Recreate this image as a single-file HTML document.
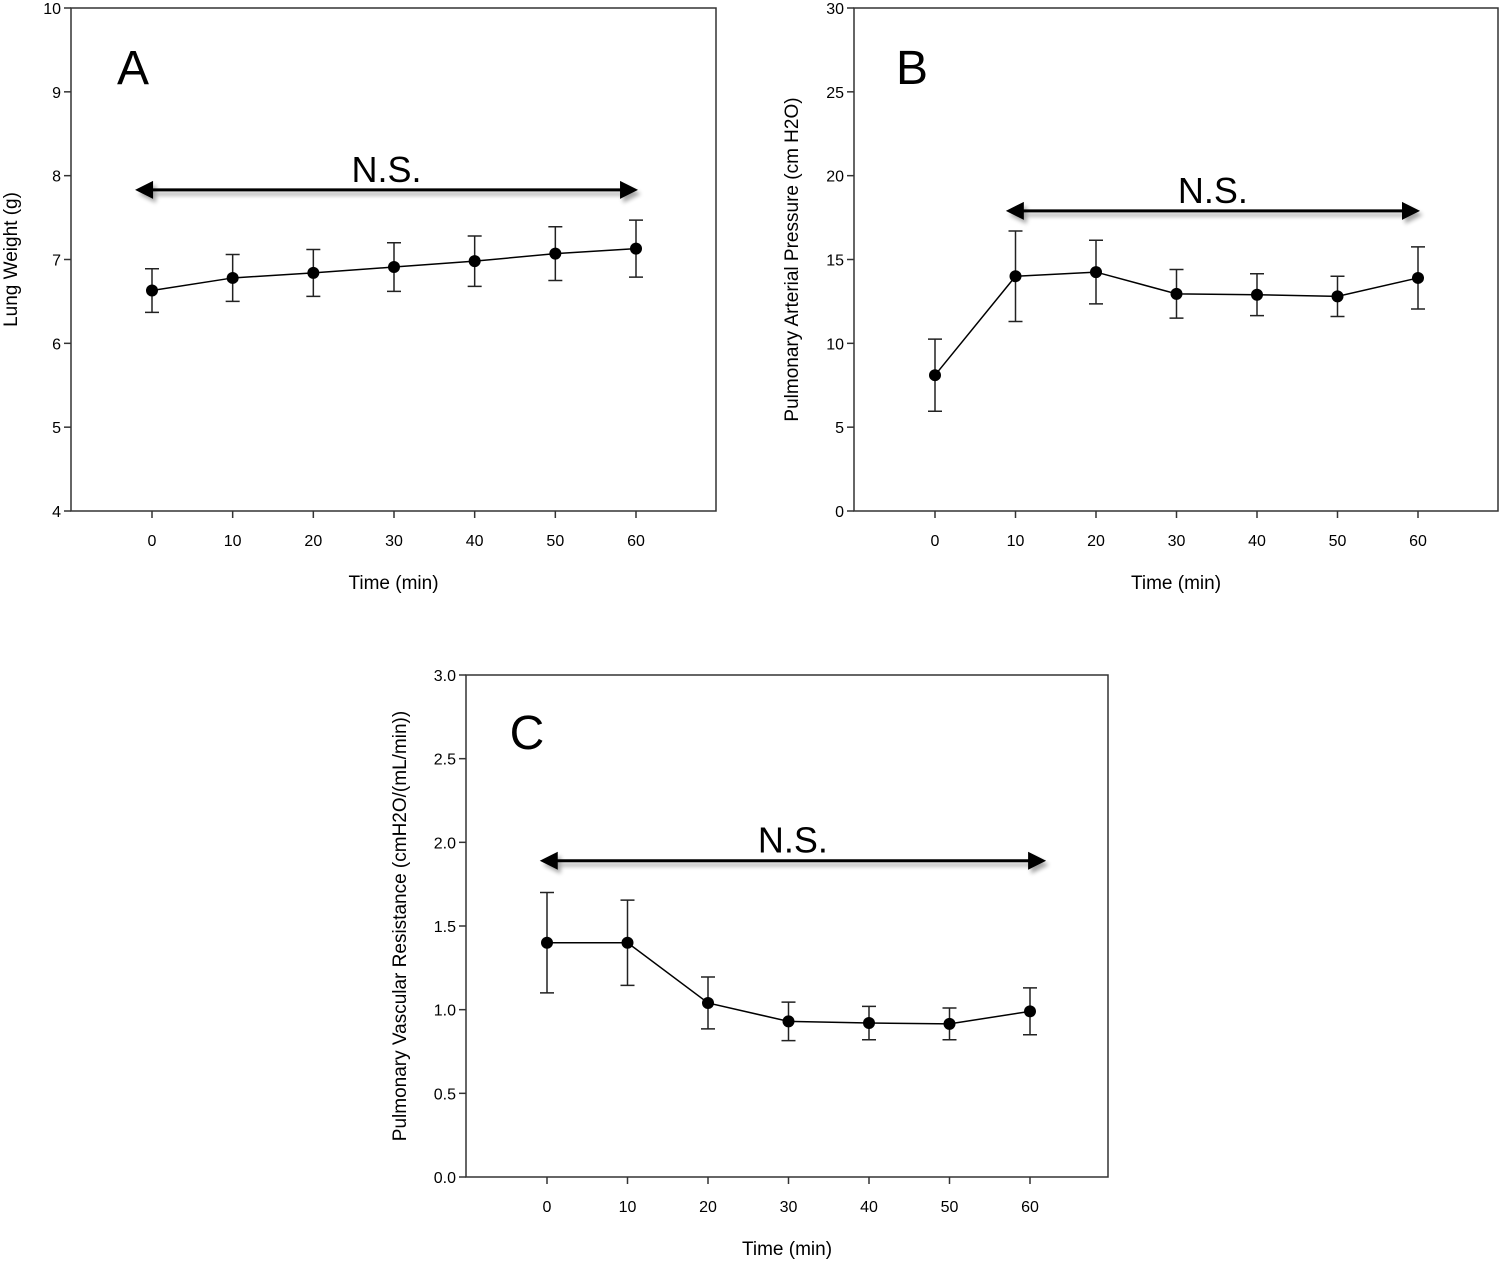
<!DOCTYPE html>
<html><head><meta charset="utf-8"><style>
body{margin:0;background:#fff;}
svg text{font-family:"Liberation Sans",Arial,sans-serif;fill:#000;}
</style></head><body>
<svg id="chart" width="1500" height="1262" viewBox="0 0 1500 1262" xmlns="http://www.w3.org/2000/svg">
<defs><filter id="sh" x="-10%" y="-100%" width="120%" height="300%"><feGaussianBlur stdDeviation="2"/></filter></defs>
</svg>
<script>
const timesMin = [0,10,20,30,40,50,60];
const xTickLabels = ['0','10','20','30','40','50','60'];
const lungWeightMean = [6.63,6.78,6.84,6.91,6.98,7.07,7.13];
const lungWeightErr = [0.26,0.28,0.28,0.29,0.30,0.32,0.34];
const papMean = [8.1,14.0,14.25,12.95,12.9,12.8,13.9];
const papErr = [2.15,2.7,1.9,1.45,1.25,1.2,1.85];
const pvrMean = [1.40,1.40,1.04,0.93,0.92,0.915,0.99];
const pvrErr = [0.30,0.255,0.155,0.115,0.10,0.095,0.14];
const lungTicks = [4,5,6,7,8,9,10];
const papTicks = [0,5,10,15,20,25,30];
const pvrTicks = [0,0.5,1.0,1.5,2.0,2.5,3.0];

const NS='http://www.w3.org/2000/svg';
const svg=document.getElementById('chart');
function mk(tag,attrs,parent){const e=document.createElementNS(NS,tag);for(const k in attrs)e.setAttribute(k,attrs[k]);(parent||svg).appendChild(e);return e;}

function panel(cfg){
  const g=mk('g',{});
  
  
  const {L,R,T,B,x0,x60,ymin,ymax}=cfg;
  const xs=v=>x0+(x60-x0)*v/60;
  const ys=v=>B-(B-T)*(v-ymin)/(ymax-ymin);
  const box=mk('rect',{x:L,y:T,width:R-L,height:B-T,fill:'none',stroke:'#333','stroke-width':1.5},g);
  
  
  cfg.yTicks.forEach((t,i)=>{
    const y=ys(t);
    mk('line',{x1:L-7,x2:L,y1:y,y2:y,stroke:'#333','stroke-width':1.5},g);
    const tx=mk('text',{x:L-10,y:y+6,'font-size':16,'text-anchor':'end'},g);
    tx.textContent=cfg.yFmt(t);
    
    
  });
  timesMin.forEach((t,i)=>{
    const x=xs(t);
    mk('line',{x1:x,x2:x,y1:B,y2:B+7,stroke:'#333','stroke-width':1.5},g);
    const tx=mk('text',{x:x,y:B+35,'font-size':16,'text-anchor':'middle'},g);
    tx.textContent=xTickLabels[i];
    
    
  });
  const xt=mk('text',{x:(L+R)/2,y:B+78,'font-size':19,'text-anchor':'middle'},g);
  xt.textContent='Time (min)';
  
  
  const yt=mk('text',{x:0,y:0,'font-size':19,'text-anchor':'middle',transform:`translate(${cfg.ytX},${(T+B)/2}) rotate(-90)`},g);
  yt.textContent=cfg.yTitle;
  
  
  const lt=mk('text',{x:cfg.letterX,y:cfg.letterY,'font-size':48,'text-anchor':'middle'},g);
  lt.textContent=cfg.letter;
  
  
  const ay=ys(cfg.arrowY), ax1=xs(cfg.arrowFrom), ax2=xs(cfg.arrowTo);
  const ag=mk('g',{},g);
  
  
  const sg=mk('g',{filter:'url(#sh)',opacity:0.35,transform:'translate(3,4)'},ag);
  [sg,ag].forEach(p=>{
    mk('line',{x1:ax1+17,x2:ax2-17,y1:ay,y2:ay,stroke:'#000','stroke-width':3},p);
    mk('polygon',{points:`${ax1},${ay} ${ax1+18},${ay-9} ${ax1+18},${ay+9}`,fill:'#000'},p);
    mk('polygon',{points:`${ax2},${ay} ${ax2-18},${ay-9} ${ax2-18},${ay+9}`,fill:'#000'},p);
  });
  const ns=mk('text',{x:(ax1+ax2)/2,y:ay-8,'font-size':36,'text-anchor':'middle'},g);
  ns.textContent='N.S.';
  
  
  const pts=timesMin.map((t,i)=>xs(t)+','+ys(cfg.mean[i])).join(' ');
  const pl=mk('polyline',{points:pts,fill:'none',stroke:'#000','stroke-width':1.5},g);
  
  
  timesMin.forEach((t,i)=>{
    const x=xs(t),m=cfg.mean[i],e=cfg.err[i];
    const yt1=ys(m+e),yb=ys(m-e);
    const eb=mk('path',{d:`M${x},${yt1}V${yb}M${x-7},${yt1}H${x+7}M${x-7},${yb}H${x+7}`,stroke:'#222','stroke-width':1.5,fill:'none'},g);
    
    
    const c=mk('circle',{cx:x,cy:ys(m),r:6,fill:'#000'},g);
    
    
  });
}
panel({name:'panel-a-lung-weight',L:71,R:716,T:8,B:511,x0:152,x60:636,ymin:4,ymax:10,yTicks:lungTicks,yFmt:t=>String(t),
  mean:lungWeightMean,err:lungWeightErr,yTitle:'Lung Weight (g)',ytX:17,letter:'A',letterX:133,letterY:84,arrowY:7.83,arrowFrom:-2.1,arrowTo:60.25});
panel({name:'panel-b-pulmonary-arterial-pressure',L:854,R:1498,T:8,B:511,x0:935,x60:1418,ymin:0,ymax:30,yTicks:papTicks,yFmt:t=>String(t),
  mean:papMean,err:papErr,yTitle:'Pulmonary Arterial Pressure (cm H2O)',ytX:798,letter:'B',letterX:912,letterY:84,arrowY:17.9,arrowFrom:8.8,arrowTo:60.25});
panel({name:'panel-c-pulmonary-vascular-resistance',L:466,R:1108,T:675,B:1177,x0:547,x60:1030,ymin:0,ymax:3,yTicks:pvrTicks,yFmt:t=>t.toFixed(1),
  mean:pvrMean,err:pvrErr,yTitle:'Pulmonary Vascular Resistance (cmH2O/(mL/min))',ytX:406,letter:'C',letterX:527,letterY:749,arrowY:1.89,arrowFrom:-0.9,arrowTo:62});
</script>
</body></html>
